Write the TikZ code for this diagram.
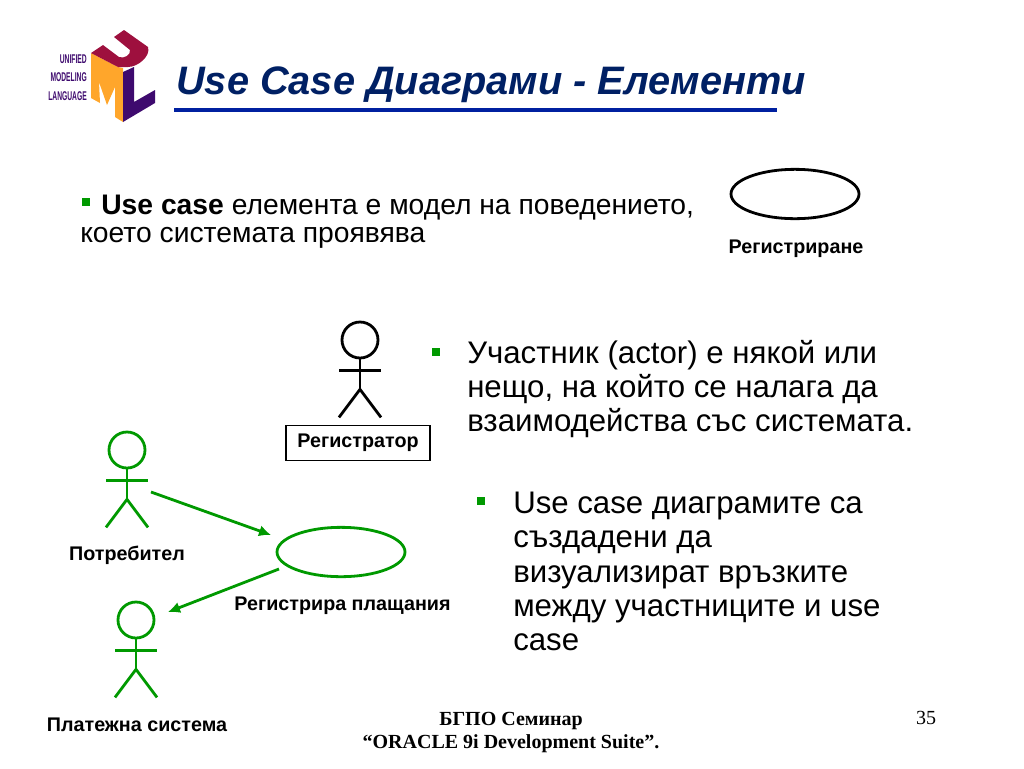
\documentclass[tikz,border=0pt]{standalone}
\usepackage{fontspec}
\setmainfont{Liberation Sans}
\newfontfamily\serifface{Liberation Serif}
\usetikzlibrary{shapes.geometric,arrows.meta,calc}
\definecolor{umlgreen}{RGB}{0,153,0}
\definecolor{titleblue}{RGB}{0,32,100}
\definecolor{ruleblue}{RGB}{0,32,160}
\definecolor{umlmaroon}{RGB}{158,16,62}
\definecolor{umlorange}{RGB}{255,166,43}
\definecolor{umlpurple}{RGB}{62,10,110}
\tikzset{
  title/.style={anchor=base west, inner sep=0pt, font=\fontsize{29.8}{32}\selectfont\bfseries\itshape, text=titleblue},
  body/.style={anchor=north west, inner sep=0pt, align=left, font=\fontsize{21.2}{21.5}\selectfont},
  bigbody/.style={body, font=\fontsize{23.4}{25.6}\selectfont},
  bullet/.style={rectangle, fill=umlgreen, inner sep=0pt, minimum size=6pt},
  caption/.style={inner sep=0pt, font=\fontsize{14.8}{16}\selectfont\bfseries},
  foot/.style={inner sep=0pt, font=\fontsize{15}{17.2}\selectfont\serifface},
  usecase/.style={ellipse, draw, line width=2.1pt, minimum width=96pt, minimum height=37pt, inner sep=0pt},
  limb/.style={line width=2.1pt},
  arrow/.style={draw=umlgreen, line width=2.1pt, -{Latex[length=9pt,width=8.5pt]}},
  logotext/.style={inner sep=0pt, anchor=east, text=umlpurple, font=\fontsize{9.5}{10}\selectfont\bfseries}
}
% stick figure: head centre, name, colour
\newcommand{\stickman}[3]{
  \node[circle, draw=#3, line width=2.1pt, minimum size=27pt, inner sep=0pt] (#2) at #1 {};
  \coordinate (#2n) at ($(#2.south)+(0,11)$);
  \coordinate (#2b) at ($(#2.south)+(0,30)$);
  \coordinate (#2l) at ($(#2b)+(-21,28)$);
  \coordinate (#2r) at ($(#2b)+(21,28)$);
  \coordinate (#2al) at ($(#2n)+(-21,0)$);
  \coordinate (#2ar) at ($(#2n)+(21,0)$);
  \draw[limb, #3] (#2.south) -- (#2b);
  \draw[limb, #3] (#2al) -- (#2ar);
  \draw[limb, #3] (#2l) -- (#2b) -- (#2r);
}
\begin{document}
\begin{tikzpicture}[x=0.75pt, y=-0.75pt]
  \useasboundingbox[fill=white] (0,0) rectangle (1024,768);

  % Logo
  \fill[umlorange] (91,53) -- (118,67) -- (123,68) -- (123,122) -- (115,117) -- (115,87) -- (107,105) -- (99,82) -- (100,103) -- (91,98) -- cycle;
  \fill[umlpurple] (123,72) -- (134,67) -- (134,102) -- (155,90) -- (155,103) -- (123,122) -- cycle;
  \fill[umlmaroon] (91,53) -- (103,45) -- (119,57) .. controls (124,59) and (131,55) .. (130,50) -- (114,37) -- (124,30) -- (148,47) .. controls (151,56) and (138,67) .. (128,67) -- (118,67) -- cycle;
  \node[logotext] (unified) at (87,59) {\scalebox{.53}[1]{UNIFIED}};
  \node[logotext] (modeling) at (87,77) {\scalebox{.53}[1]{MODELING}};
  \node[logotext] (language) at (87,96) {\scalebox{.53}[1]{LANGUAGE}};

  % Title
  \node[title] (head) at (176,94) {Use Case Диаграми - Елементи};
  \draw[line width=3.5pt, ruleblue] (174,110) -- (777,110);

  % Text
  \node[bullet] (b1) at (86,202) {};
  \node[body] (t1) at (80,194.5) {\hspace{15.8pt}\textbf{Use case} елемента е модел на поведението,\\ което системата проявява};
  \node[bullet] (b2) at (436,352) {};
  \node[bigbody] (t2) at (467,340) {Участник (actor) е някой или\\ нещо, на който се налага да\\ взаимодейства със системата.};
  \node[bullet] (b3) at (481,501) {};
  \node[bigbody] (t3) at (513,492) {Use case диаграмите са\\ създадени да\\ визуализират връзките\\ между участниците и use\\ case};

  % Use case top
  \node[usecase, draw=black] (reg) at (795,194) {};
  \node[caption] (regl) at (796,249) {Регистриране};

  % Actors
  \stickman{(360,340)}{actor}{black}
  \node[draw, line width=0.8pt, minimum width=108pt, minimum height=26pt, inner sep=0pt, caption] (actorl) at (358,443) {\raisebox{-1.5pt}{Регистратор}};
  \stickman{(127,450)}{user}{umlgreen}
  \node[caption] (userl) at (127,555) {Потребител};
  \stickman{(136,620)}{pay}{umlgreen}
  \node[caption] (payl) at (137,724.5) {Платежна система};

  % Use case bottom
  \node[usecase, draw=umlgreen] (uc) at (341,552) {};
  \node[caption] (ucl) at (342.5,606) {Регистрира плащания};
  \coordinate (from1) at (151,492);
  \coordinate (to2) at (168,612);
  \coordinate (to1) at (271,535);
  \coordinate (from2) at (279,569);
  \draw[arrow] (from1) -- (to1);
  \draw[arrow] (from2) -- (to2);

  % Footer
  \node[foot, align=center] (ft) at (511,732.5) {\textbf{БГПО Семинар}\\ \textbf{“ORACLE 9i Development Suite”.}};
  \node[foot] (pg) at (926,718) {35};
\end{tikzpicture}
\end{document}
